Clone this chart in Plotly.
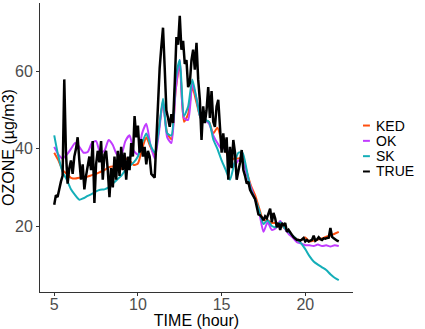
import numpy as np
import plotly.graph_objects as go

# model time grid (hours) and measured time grid
model_hours = np.round(np.arange(5.0, 22.001, 0.25), 2)
true_hours = np.round(np.arange(5.0, 22.001, 0.1), 1)

ked = [39, 37, 34.5, 33.5, 32.5, 32.3, 32.5, 32.6, 32.8, 33.2, 33.5, 34, 34.5, 35.2, 35.4, 35.3,
       34.8, 37.5, 37, 35.8, 36.2, 40, 43, 40.5, 38.5, 45, 52, 44, 42.5, 55, 62, 47,
       49, 56, 52, 48, 47.5, 47, 44, 45.5, 42, 39.5, 37, 37.5, 37.5, 37.7, 34, 30.5,
       28, 24.5, 21.5, 21.5, 20.8, 20.8, 20.5, 19.5, 18.5, 17.5, 16.5, 16.4, 17, 16, 16.2, 16.5,
       16.8, 17.2, 17.5, 18, 18.5]
ok = [40.5, 38.5, 37.5, 38.5, 40, 41.5, 40.5, 39, 39.2, 41.5, 42, 39, 39.5, 42.3, 41, 38.5,
      38.4, 42, 43.5, 39.5, 38.5, 44, 46.5, 41, 37.5, 44, 52.5, 43, 41.5, 55, 63, 48,
      47.5, 57, 53, 48, 47.5, 46.5, 43.5, 41.5, 40, 40.5, 38, 35.5, 37, 37, 33.5, 30,
      27, 23.5, 18.5, 21, 19, 19.5, 21.3, 19.5, 18, 17, 15.8, 15.5, 15, 15, 14.8, 15.2,
      14.8, 15, 14.7, 15, 14.8]
sk = [43.5, 38, 34, 32, 29.5, 28, 26.8, 27.2, 27.8, 28.3, 29, 29.4, 29.5, 30, 31, 32,
      33, 34.5, 35.5, 36.5, 38, 41.5, 44, 41, 39, 45, 53, 44, 43.5, 58, 63, 48.5,
      51, 58, 53, 48, 47.5, 47, 42.5, 40, 37, 34.5, 32, 36, 39, 39, 34.5, 29.5,
      27, 24, 20.5, 21.5, 20, 19.7, 21, 19.5, 18.5, 17.5, 16.5, 15.5, 14, 12.2, 10.8, 10,
      9.3, 8.6, 7.5, 6.6, 6]
true = [25.5, 28, 27.5, 30, 31.5, 33, 58, 39, 31, 35,
        37, 33.5, 38, 40, 43, 37, 32, 36, 29.5, 33,
        36, 38, 34.5, 42, 26, 36, 39.5, 36.5, 42, 32,
        38.5, 39.5, 34.5, 27.5, 35, 30, 38, 32, 39.5, 33,
        40.5, 34.5, 39, 32, 38, 34.5, 41.5, 38, 48.5, 43,
        46, 39, 42.5, 38, 40.5, 36, 39.5, 38, 33.5, 33,
        32.5, 42, 52, 61, 66.5, 71.4, 61, 50, 48, 45.7,
        49, 46.7, 57, 69, 67, 74.5, 65.7, 68, 62, 63,
        56, 57, 63, 65.7, 60.5, 67.5, 58, 52.7, 42.3, 51,
        46.7, 50, 56, 48, 55, 47, 45.7, 51, 52.7, 45,
        39, 44, 39, 43, 32, 40.5, 35, 42.3, 39, 32,
        34, 36.4, 39.7, 34.5, 33, 31, 31.5, 29.4, 28.5, 27.6,
        27, 25, 23, 22.8, 22.3, 21.5, 22.5, 22, 23.6, 24.5,
        21, 23.4, 22, 19.7, 20.8, 19, 20.8, 20, 20.8, 18.5,
        19, 18.2, 17.7, 17.1, 16.8, 16.4, 16.4, 16.2, 16.5, 16.9,
        16, 16.4, 16, 16.2, 16.4, 17.5, 16.2, 16.5, 17.1, 16.6,
        16.4, 16.8, 16.7, 16.9, 17, 19.5, 17.2, 16.8, 16.4, 16.2,
        16]

series = [("KED", model_hours, ked, "#FF4F0F", 2),
          ("OK", model_hours, ok, "#C13BFF", 2),
          ("SK", model_hours, sk, "#14AEB8", 2),
          ("TRUE", true_hours, true, "black", 2.5)]

fig = go.Figure()
for name, x, y, color, w in series:
    fig.add_trace(go.Scatter(x=x, y=y, mode="lines", name=name, showlegend=False,
                             line=dict(color=color, width=w,
                                       shape="spline" if name != "TRUE" else "linear",
                                       smoothing=0.6)))

# hand-made legend in the right margin (ggplot style short keys)
for i, (name, _, _, color, _) in enumerate(series):
    ly = 0.576 - i * 0.053
    fig.add_shape(type="line", xref="paper", yref="paper", x0=1.032, x1=1.054, y0=ly, y1=ly,
                  line=dict(color=color, width=2))
    fig.add_annotation(xref="paper", yref="paper", x=1.066, y=ly, text=name, showarrow=False,
                       xanchor="left", yanchor="middle", font=dict(size=14, color="black"))

axis_style = dict(showgrid=False, zeroline=False, showline=True, linecolor="#333333", linewidth=1,
                  ticks="outside", ticklen=3, tickcolor="#333333", automargin=False,
                  tickfont=dict(size=16, color="#4D4D4D"))
fig.update_xaxes(range=[4.15, 22.85], tickvals=[5, 10, 15, 20], ticklabelstandoff=-5,
                 title=dict(text="TIME (hour)", font=dict(size=16, color="black"), standoff=1),
                 **axis_style)
fig.update_yaxes(range=[2.9, 77.8], tickvals=[20, 40, 60],
                 title=dict(text="OZONE (µg/m3)", font=dict(size=16, color="black"), standoff=3),
                 **axis_style)
fig.update_layout(width=425, height=329, margin=dict(l=40, r=72, t=3, b=37),
                  plot_bgcolor="white", paper_bgcolor="white",
                  font=dict(family="Liberation Sans"))
# drop the default page margin so the figure sits at the window's corner
fig.write_html("out.html", config={"displayModeBar": False},
               post_script="document.body.style.margin='0';")
